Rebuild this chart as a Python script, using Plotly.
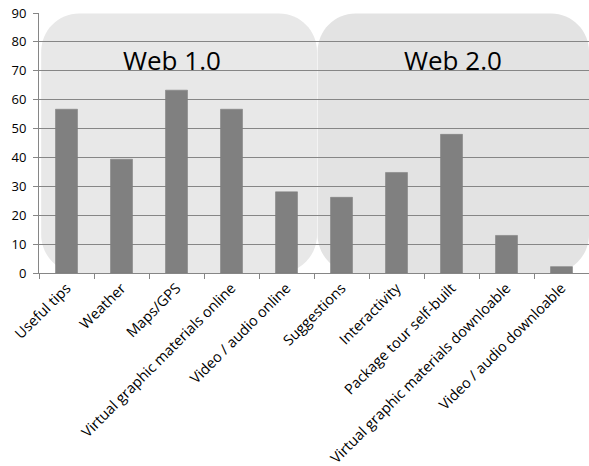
import plotly.graph_objects as go

categories = [
    "Useful tips", "Weather", "Maps/GPS", "Virtual graphic materials online",
    "Video / audio online", "Suggestions", "Interactivity",
    "Package tour self-built", "Virtual graphic materials downloable",
    "Video / audio downloable",
]
values = [56.7, 39.4, 63.3, 56.7, 28.1, 26.2, 34.8, 48.0, 13.0, 2.2]
y_ticks = [0, 10, 20, 30, 40, 50, 60, 70, 80, 90]
group_labels = ["Web 1.0", "Web 2.0"]

FONT = "Open Sans"


def rounded_rect(x0, x1, y0, y1, rx, ry):
    """SVG path for a rectangle with rounded corners (data units)."""
    k = 0.5523
    return (
        f"M {x0 + rx},{y0} L {x1 - rx},{y0} "
        f"C {x1 - rx + rx * k},{y0} {x1},{y0 + ry - ry * k} {x1},{y0 + ry} "
        f"L {x1},{y1 - ry} "
        f"C {x1},{y1 - ry + ry * k} {x1 - rx + rx * k},{y1} {x1 - rx},{y1} "
        f"L {x0 + rx},{y1} "
        f"C {x0 + rx - rx * k},{y1} {x0},{y1 - ry + ry * k} {x0},{y1 - ry} "
        f"L {x0},{y0 + ry} "
        f"C {x0},{y0 + ry - ry * k} {x0 + rx - rx * k},{y0} {x0 + rx},{y0} Z"
    )


fig = go.Figure(
    go.Bar(
        x=categories,
        y=values,
        marker=dict(color="#808080", line=dict(color="#7a7a7a", width=0.5)),
        width=0.4,
        hoverinfo="x+y",
    )
)

# Rounded group panels behind the bars
rx, ry = 0.69, 13.2
panels = [(-0.46, 4.555, "#e8e8e8"), (4.565, 9.5, "#e3e3e3")]
for x0, x1, col in panels:
    fig.add_shape(
        type="path",
        path=rounded_rect(x0, x1, 0, 89.8, rx, ry),
        xref="x", yref="y",
        fillcolor=col,
        line=dict(width=0),
        layer="below",
    )

for label, xc in zip(group_labels, [1.92, 7.03]):
    fig.add_annotation(
        x=xc, y=73.8, xref="x", yref="y", text=label, showarrow=False,
        font=dict(family=FONT, size=26, color="#000000"),
    )

fig.update_layout(
    width=589, height=466,
    margin=dict(l=39, r=0, t=13, b=193),
    plot_bgcolor="white",
    paper_bgcolor="white",
    showlegend=False,
    bargap=0.6,
    font=dict(family=FONT, size=13, color="#000000"),
)
fig.update_xaxes(
    type="category",
    range=[-0.5, 9.5],
    tickangle=-45,
    automargin=False,
    showline=True, linecolor="#868686", linewidth=1,
    ticks="outside", tickson="boundaries", ticklen=5, tickcolor="#868686",
    showgrid=False,
    tickfont=dict(family=FONT, size=14.5),
)
fig.update_yaxes(
    range=[0, 90],
    tickvals=y_ticks,
    automargin=False,
    showline=True, linecolor="#868686", linewidth=1,
    ticks="outside", ticklen=5, tickcolor="#868686",
    showgrid=True, gridcolor="#868686", gridwidth=1.2,
    zeroline=False,
    ticklabelstandoff=4,
    tickfont=dict(family=FONT, size=13),
)

fig.write_html("out.html")
